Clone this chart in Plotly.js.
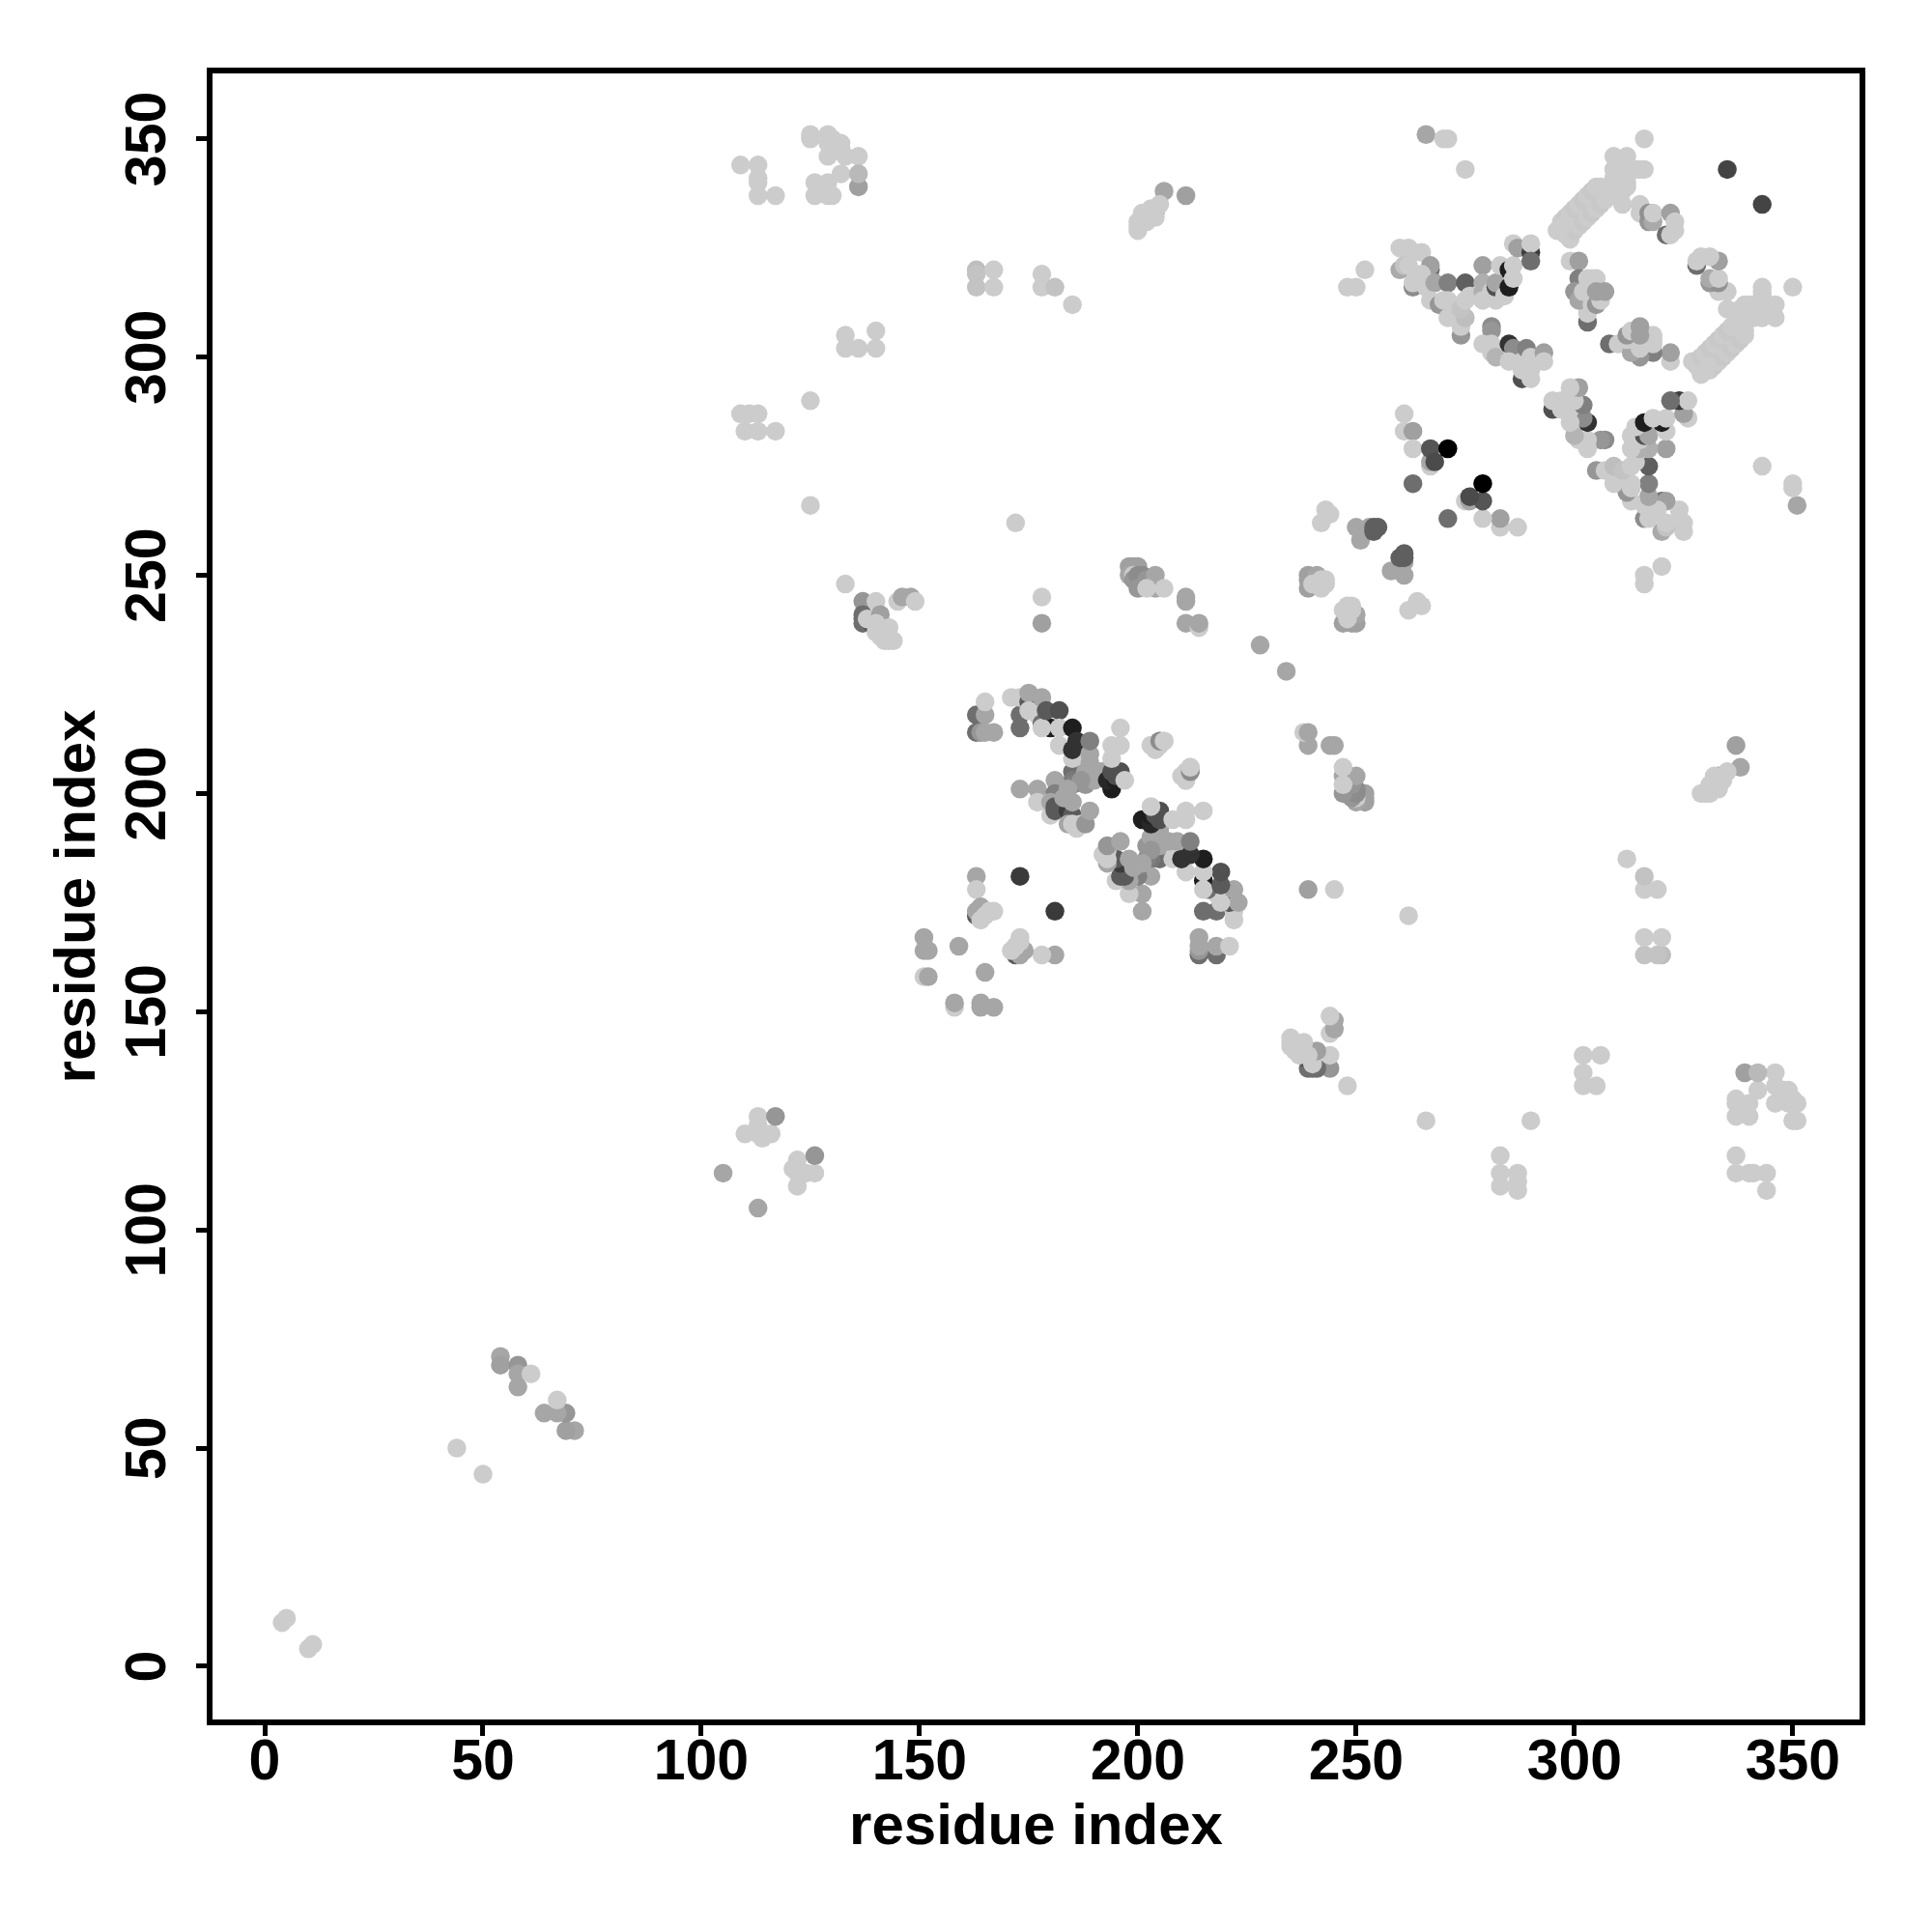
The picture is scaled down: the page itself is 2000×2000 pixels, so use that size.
<!DOCTYPE html>
<html><head><meta charset="utf-8">
<script src="https://cdn.plot.ly/plotly-3.0.1.min.js"></script>
<style>html,body{margin:0;padding:0;background:#fff}</style></head>
<body><div id="chart" style="width:2000px;height:2000px"></div>
<script>
const L = 204;
// contact map: [residue i, residue j, grey level]; the map is symmetric, pairs listed with j > i
const lowRegion = [[4,10,L],[5,11,L],[44,50,L],[54,71,166],[54,69,160],[58,69,150],[58,67,166],[58,64,166],[61,67,L]];
const block105 = [[105,113,166],[110,122,L],[113,126,L],[113,124,L],[113,123,L],[113,122,L],[114,122,L],[114,121,L],[116,122,L],[117,126,150]];
const blockTopLeft = [[109,344,L],[113,344,L],[113,341,L],[113,340,L],[113,337,L],[117,337,L],[125,351,L],[125,350,L],[129,351,L],[129,349,L],[130,350,L],[132,349,L],[132,348,L],[129,346,L],[133,346,L],[136,346,L],[132,342,L],[136,339,160],[136,342,185],[126,340,L],[129,340,L],[126,337,L],[129,337,L],[130,337,L]];
const blockMidLeft = [[109,287,L],[111,287,L],[113,287,L],[110,283,L],[113,283,L],[117,283,L],[125,290,L],[125,266,L],[133,305,L],[133,302,L],[136,302,L],[140,306,L],[140,302,L]];
const block133 = [[133,248,L],[137,244,150],[137,241,110],[137,240,110],[137,239,110],[139,239,80],[140,244,L],[138,240,L],[141,241,160],[140,239,L],[143,238,L],[143,236,L],[140,237,L],[141,236,L],[142,235,L],[143,235,L],[144,235,L],[145,244,L],[146,245,166],[148,245,166],[149,244,L]];
const blockTopMid = [[163,320,190],[163,319,195],[163,316,195],[167,320,L],[167,316,L],[178,319,L],[178,316,L],[181,316,195],[185,312,L],[204,333,166],[206,338,166],[211,337,160],[205,335,L],[203,334,L],[204,332,L],[201,333,L],[201,332,L],[202,331,L],[200,331,L],[200,330,L],[200,329,L],[252,320,L],[248,316,L],[250,316,L],[266,351,166],[270,350,L],[271,350,L],[275,343,L],[172,262,L],[178,245,L],[178,239,160]];
const block198 = [[198,252,160],[199,252,160],[200,252,160],[198,250,166],[199,250,L],[199,249,150],[200,250,140],[201,250,140],[201,249,140],[200,247,150],[202,249,150],[203,248,150],[204,250,166],[204,247,166],[202,247,L],[206,247,L],[211,245,166],[211,244,166],[211,239,166],[214,238,L],[214,239,166],[228,234,166]];
const block239 = [[239,250,160],[239,249,160],[239,247,160],[241,250,166],[240,248,L],[241,248,L],[242,249,L],[243,249,L],[243,248,L],[242,247,L],[242,262,L],[243,265,L],[244,264,L],[250,261,166],[251,258,166],[253,261,166],[254,260,95],[254,261,95],[255,261,95]];
const block151 = [[151,167,166],[151,164,166],[152,164,166],[159,165,166],[151,158,L],[152,158,166],[163,181,166],[163,178,L],[163,172,90],[163,173,166],[164,174,166],[164,171,L],[165,172,L],[166,173,L],[167,173,L],[173,181,58]];
const centralLower = [[185,205,110],[185,203,120],[185,202,128],[188,205,166],[188,202,150],[191,205,166],[192,205,166],[190,203,166],[187,203,150],[173,201,166],[177,201,166],[177,198,L],[180,195,L],[181,203,166],[181,200,128],[180,198,166],[181,197,90],[181,196,90],[184,196,60],[185,195,90],[185,198,166],[183,199,166],[184,201,166],[184,193,166],[185,193,L],[186,192,L],[187,193,L],[188,193,150],[189,196,166]];
const centralUpper = [[173,218,110],[173,215,110],[163,218,110],[165,218,166],[163,214,110],[164,214,150],[165,214,166],[167,214,166],[165,221,L],[171,222,L],[173,222,L],[175,221,90],[175,223,166],[178,222,166],[175,219,L],[177,218,L],[178,216,110],[180,215,30],[178,215,L],[179,219,90],[182,219,80],[182,215,L],[182,211,L],[185,208,L],[185,210,50],[185,215,30],[186,212,50],[189,207,166],[189,209,166],[189,212,128],[194,201,30],[194,202,30],[193,203,40],[195,203,30],[194,205,80],[195,204,80],[195,205,80],[196,204,80],[196,205,80],[197,203,L],[196,215,L],[196,211,L],[194,211,L],[194,208,L],[203,211,L],[205,212,166],[206,212,L],[210,204,L],[211,203,L],[211,205,L],[212,205,140],[212,206,L]];
const block261 = [[261,287,L],[261,283,L],[263,283,160],[263,279,L],[267,275,L],[267,276,166],[267,279,85],[268,276,75],[271,279,0],[263,271,110]];
const armLeft = [[260,320,170],[260,325,L],[262,325,L],[263,324,L],[265,324,L],[261,321,195],[262,321,L],[267,320,110],[267,321,160],[263,316,140],[263,317,L],[265,319,L],[266,316,L],[268,317,166],[271,317,128],[275,317,95],[267,313,L],[269,312,150],[270,313,L],[271,313,L],[271,309,L],[274,305,150],[274,307,L],[275,309,190],[274,311,195],[275,313,L],[276,314,L]];
const armRight = [[279,321,160],[279,317,175],[279,315,175],[279,313,L],[282,313,L],[281,315,L],[282,316,80],[282,317,166],[284,314,L],[283,321,L],[285,320,30],[285,316,30],[286,321,L],[286,318,L],[286,326,L],[287,325,160],[290,324,60],[290,326,L],[290,322,110]];
const blockLowerArm = [[281,307,140],[281,306,150],[279,303,L],[281,303,L],[281,301,L],[282,300,180],[285,303,50],[286,302,140],[288,299,L],[285,299,L],[288,295,80],[289,302,128],[288,297,L],[290,297,L],[290,295,L],[290,300,L],[293,301,160],[293,299,L]];
const band297 = [[298,329,L],[299,330,200],[300,331,L],[301,332,200],[302,333,L],[303,334,200],[304,335,L],[305,336,200],[306,337,L],[307,338,200],[308,339,L],[297,331,L],[298,332,200],[299,333,L],[300,334,200],[301,335,L],[302,336,200],[303,337,L],[304,338,200],[305,339,L],[306,339,L],[298,328,L],[299,327,L],[300,329,200],[301,330,L],[302,331,200],[303,332,L],[304,333,200],[305,334,L],[306,335,200],[307,336,L],[308,337,L],[296,329,L],[297,330,L]];
const blockTopRight = [[316,350,L],[309,346,L],[312,346,L],[309,343,L],[312,343,L],[314,343,L],[315,343,L],[316,343,L],[309,341,L],[312,340,L],[312,339,L],[311,338,L],[311,335,L],[315,335,L],[315,333,L],[317,331,150],[317,333,144],[318,331,170],[318,333,L],[321,328,110],[322,333,160],[322,328,L],[323,331,L],[323,329,L],[335,343,68]];
const blockInner = [[299,322,L],[301,322,160],[301,318,128],[303,308,110],[303,310,L],[303,318,L],[304,318,L],[305,318,L],[300,315,150],[301,313,166],[302,315,L],[304,312,L],[305,312,150],[306,313,L],[305,315,160],[307,315,160]];
const clusters = [lowRegion, block105, blockTopLeft, blockMidLeft, block133, blockTopMid, block198, block239, block151, centralLower, centralUpper, block261, armLeft, armRight, blockLowerArm, band297, blockTopRight, blockInner];
const tickValues = [0,50,100,150,200,250,300,350];
const axisLabel = 'residue index';

const xs = [], ys = [], colors = [];
for (const c of clusters) for (const [i,j,g] of c) {
  xs.push(i,j); ys.push(j,i);
  const col = 'rgb('+g+','+g+','+g+')';
  colors.push(col,col);
}
const fontFam = '"Liberation Sans", Arial, sans-serif';
const titleFont = {family:fontFam,size:60,color:'#000',weight:'bold'};
function axis(range, extra){
  return Object.assign({range, tickmode:'array', tickvals:tickValues, ticktext:tickValues.map(String),
    ticks:'outside', ticklen:11, tickwidth:5, tickcolor:'#000',
    showline:true, mirror:true, linecolor:'#000', linewidth:6, zeroline:false, showgrid:false,
    tickfont:{family:fontFam,size:59,color:'#000',weight:'bold'}}, extra);
}
Plotly.newPlot('chart',[{type:'scatter',mode:'markers',x:xs,y:ys,
  marker:{size:19.5,color:colors,line:{width:0}},hoverinfo:'skip'}],{
  width:2000,height:2000,paper_bgcolor:'#fff',plot_bgcolor:'#fff',showlegend:false,
  margin:{l:220,r:75,t:76,b:220,pad:0},
  xaxis:axis([-11.95,365.3],{ticklabelstandoff:-26,title:{text:axisLabel,standoff:4,font:titleFont}}),
  yaxis:axis([-12.2,365],{tickangle:-90,ticklabelstandoff:8,ticklabelshift:9,title:{text:axisLabel,standoff:2,font:titleFont}})
},{displayModeBar:false,staticPlot:true});
</script></body></html>
